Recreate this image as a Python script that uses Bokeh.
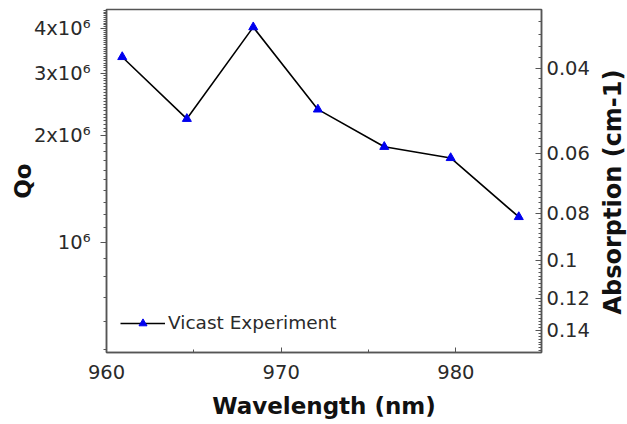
from bokeh.plotting import figure
from bokeh.layouts import row
from bokeh.models import (Range1d, LogScale, LogAxis, FixedTicker, Legend, LegendItem, Div)
from bokeh.embed import file_html
from bokeh.resources import INLINE

# ---- data ----
wavelength = [960.9, 964.6, 968.4, 972.1, 975.9, 979.7, 983.6]
qo = [3.33e6, 2.23e6, 4.04e6, 2.37e6, 1.86e6, 1.73e6, 1.18e6]
series_name = "Vicast Experiment"

x_ticks = [960, 970, 980]
x_minor_ticks = [965, 975]
qo_ticks = [1e6, 2e6, 3e6, 4e6]
qo_tick_labels = ["10⁶", "2x10⁶", "3x10⁶", "4x10⁶"]
abs_ticks = [0.04, 0.06, 0.08, 0.1, 0.12, 0.14]
abs_tick_labels = ["0.04", "0.06", "0.08", "0.1", "0.12", "0.14"]
abs_title = "Absorption (cm-1)"

FONT = "DejaVu Sans"
TICK_SIZE = "19.5px"
LABEL_SIZE = "23px"
TEXT_COLOR = "#2a2a2a"
AXIS_COLOR = "#555555"

qo_minor = [i * 1e5 for i in range(5, 20)] + [i * 5e4 for i in range(40, 91)]
abs_minor = [round(0.030 + 0.002 * i, 4) for i in range(0, 63)]

p = figure(width=598, height=424, y_axis_type="log", title=None,
           x_range=Range1d(960, 984.9), y_range=Range1d(4.9e5, 4.53e6),
           output_backend="svg", toolbar_location=None,
           min_border_left=106, min_border_right=57, min_border_top=9, min_border_bottom=72)
p.grid.visible = False
p.outline_line_color = AXIS_COLOR
p.outline_line_width = 1.5
p.background_fill_color = "white"
p.border_fill_color = "white"

# x axis
xa = p.xaxis[0]
xa.ticker = FixedTicker(ticks=x_ticks, minor_ticks=x_minor_ticks)
xa.axis_label = "Wavelength (nm)"
xa.axis_label_text_font = FONT
xa.axis_label_text_font_style = "bold"
xa.axis_label_text_font_size = LABEL_SIZE
xa.axis_label_text_color = "#111111"
xa.axis_label_standoff = 11
xa.major_label_text_font = FONT
xa.major_label_text_font_size = TICK_SIZE
xa.major_label_text_color = TEXT_COLOR
xa.major_tick_in = 5
xa.major_tick_out = 0
xa.minor_tick_in = 3
xa.minor_tick_out = 0
xa.major_label_standoff = 12
xa.axis_line_color = AXIS_COLOR
xa.axis_line_width = 1.5
xa.major_tick_line_color = AXIS_COLOR
xa.minor_tick_line_color = AXIS_COLOR

# left axis
ya = p.yaxis[0]
ya.ticker = FixedTicker(ticks=qo_ticks, minor_ticks=qo_minor)
ya.major_label_overrides = {t: l for t, l in zip(qo_ticks, qo_tick_labels)}
ya.axis_label = "Qo"
ya.axis_label_text_font = FONT
ya.axis_label_text_font_style = "bold"
ya.axis_label_text_font_size = LABEL_SIZE
ya.axis_label_text_color = "#111111"
ya.axis_label_standoff = -5
ya.major_label_text_font = FONT
ya.major_label_text_font_size = TICK_SIZE
ya.major_label_text_color = TEXT_COLOR
ya.major_tick_in = 0
ya.major_tick_out = 6
ya.minor_tick_in = 0
ya.minor_tick_out = 3
ya.major_label_standoff = 10
ya.axis_line_color = AXIS_COLOR
ya.axis_line_width = 1.5
ya.major_tick_line_color = AXIS_COLOR
ya.minor_tick_line_color = AXIS_COLOR

# right axis: absorption (log, reversed)
p.extra_y_ranges = {"abs": Range1d(start=0.1556, end=0.0302)}
p.extra_y_scales = {"abs": LogScale()}
ra = LogAxis(y_range_name="abs", ticker=FixedTicker(ticks=abs_ticks, minor_ticks=abs_minor))
ra.major_label_overrides = {t: l for t, l in zip(abs_ticks, abs_tick_labels)}
ra.major_label_text_font = FONT
ra.major_label_text_font_size = TICK_SIZE
ra.major_label_text_color = TEXT_COLOR
ra.major_tick_in = 6
ra.major_tick_out = 0
ra.minor_tick_in = 3
ra.minor_tick_out = 0
ra.major_label_standoff = 5
ra.axis_line_color = AXIS_COLOR
ra.axis_line_width = 1.5
ra.major_tick_line_color = AXIS_COLOR
ra.minor_tick_line_color = AXIS_COLOR
p.add_layout(ra, "right")

# data
ln = p.line(wavelength, qo, line_color="black", line_width=1.6)
sc = p.scatter(wavelength, qo, marker="triangle", size=9, fill_color="#0000ee", line_color="#0000ee")

legend = Legend(items=[LegendItem(label=series_name, renderers=[ln, sc])],
                location=(14, 19), border_line_color=None, background_fill_alpha=0,
                label_text_font=FONT, label_text_font_size="18.5px", label_text_color=TEXT_COLOR,
                glyph_width=45, glyph_height=20, label_height=20,
                label_standoff=3, padding=0, margin=0)
p.add_layout(legend, "center")

# right-hand axis title, reading bottom-to-top as in the reference
title_html = (
    '<div style="position:relative;width:29px;height:424px;">'
    '<span style="position:absolute;left:15px;top:192px;'
    'transform:translate(-50%,-50%) rotate(-90deg);white-space:nowrap;'
    "font-family:'DejaVu Sans';font-weight:bold;font-size:24px;color:#111111;line-height:1;\">"
    + abs_title + '</span></div>'
)
abs_div = Div(text=title_html, width=29, height=424, margin=0)

layout = row(p, abs_div, spacing=0)
open("out.html", "w").write(file_html(layout, INLINE))
